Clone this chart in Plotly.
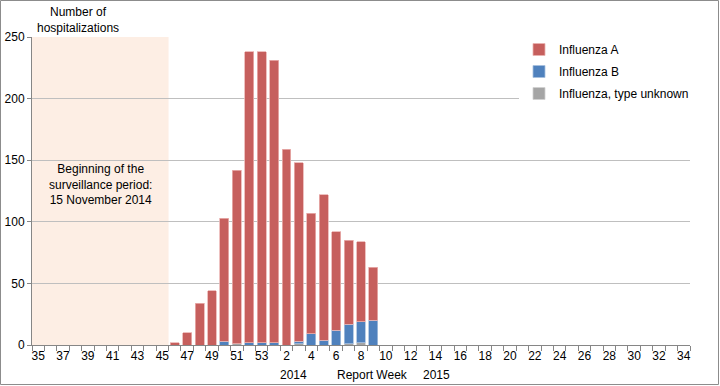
import plotly.graph_objects as go

weeks = [str(w) for w in range(35, 54)] + [str(w) for w in range(1, 35)]

# values by week (weeks 46/2014 .. 9/2015 have data; others 0)
total_by_week = {"46": 2, "47": 10, "48": 34, "49": 44, "50": 103, "51": 142,
                 "52": 238, "53": 238, "1": 231, "2": 159, "3": 148, "4": 107,
                 "5": 122, "6": 92, "7": 85, "8": 84, "9": 63}
flu_b_by_week = {"50": 3, "52": 2, "53": 2, "1": 2, "3": 2, "4": 9, "5": 4,
                 "6": 12, "7": 16, "8": 17, "9": 20}
unknown_by_week = {"51": 1, "3": 1, "7": 1, "8": 2}

flu_unknown = [unknown_by_week.get(w, 0) for w in weeks]
flu_b = [flu_b_by_week.get(w, 0) for w in weeks]
flu_a = [total_by_week.get(w, 0) - flu_b_by_week.get(w, 0) - unknown_by_week.get(w, 0)
         for w in weeks]

x = list(range(len(weeks)))
tick_idx = [i for i in x if i % 2 == 0]
tick_txt = [weeks[i] for i in tick_idx]

FONT = "Liberation Sans, Arial, sans-serif"

fig = go.Figure()
fig.add_trace(go.Bar(x=x, y=flu_unknown, name="Influenza, type unknown",
                     marker=dict(color="#a5a5a5", line=dict(color="#d0d0d0", width=0.8)),
                     legendgroup="u", legendrank=3))
fig.add_trace(go.Bar(x=x, y=flu_b, name="Influenza B",
                     marker=dict(color="#4f81bd", line=dict(color="#a7c0de", width=0.8)),
                     legendgroup="b", legendrank=2))
fig.add_trace(go.Bar(x=x, y=flu_a, name="Influenza A",
                     marker=dict(color="#c65f5d", line=dict(color="#eab2b0", width=0.8)),
                     legendgroup="a", legendrank=1))

L, R, T, B = 32, 30, 37, 41
PW, PH = 720 - L - R, 386 - T - B

fig.update_layout(
    width=720, height=386,
    margin=dict(l=L, r=R, t=T, b=B, autoexpand=False),
    barmode="stack", bargap=0.28,
    plot_bgcolor="white", paper_bgcolor="white",
    font=dict(family=FONT, size=12, color="#000000"),
    showlegend=True,
    legend=dict(x=(519 - L) / PW, y=1 - (35 - T) / PH, xanchor="left", yanchor="top",
                traceorder="grouped", tracegroupgap=3,
                bgcolor="white", font=dict(size=12, family=FONT), itemwidth=30),
    xaxis=dict(range=[-0.5, len(weeks) - 0.5], tickmode="array", tickvals=tick_idx,
               ticktext=tick_txt, ticks="", showgrid=False, zeroline=False,
               showline=True, linecolor="#868686", linewidth=1, automargin=False,
               tickfont=dict(size=12),
               minor=dict(tickmode="linear", tick0=-0.5, dtick=1, ticks="outside",
                          ticklen=5, tickcolor="#868686", showgrid=False)),
    yaxis=dict(range=[0, 250], tickvals=[0, 50, 100, 150, 200, 250],
               showgrid=True, gridcolor="#bfbfbf", gridwidth=1, automargin=False,
               zeroline=False, showline=True, linecolor="#868686", linewidth=1,
               ticks="outside", ticklen=4, tickcolor="#868686",
               tickfont=dict(size=12)),
)

fig.add_shape(type="rect", xref="x", yref="y", x0=-0.5, x1=10.5, y0=0, y1=250,
              fillcolor="#fdeee4", line=dict(width=0), layer="below")

fig.add_shape(type="rect", xref="paper", yref="paper",
              x0=-(L - 0.5) / PW, x1=1 + (R - 1.5) / PW,
              y0=-(B - 1.5) / PH, y1=1 + (T - 0.5) / PH,
              line=dict(color="#8c8c8c", width=1), fillcolor="rgba(0,0,0,0)")

fig.add_annotation(text="Number of<br>hospitalizations", xref="paper", yref="paper",
                   x=(78 - L) / PW, y=1 + (37 - 20) / PH, showarrow=False,
                   xanchor="center", yanchor="middle", font=dict(size=12))
fig.add_annotation(text="Beginning of the<br>surveillance period:<br>15 November 2014",
                   xref="x", yref="y", x=5, y=130, showarrow=False,
                   xanchor="center", yanchor="middle", font=dict(size=12))
for txt, xi in [("2014", 20.6), ("Report Week", 26.9), ("2015", 32.1)]:
    fig.add_annotation(text=txt, xref="x", yref="paper", x=xi, y=-(375 - 345) / PH,
                       showarrow=False, xanchor="center", yanchor="middle",
                       font=dict(size=12))

fig.write_html("out.html")
